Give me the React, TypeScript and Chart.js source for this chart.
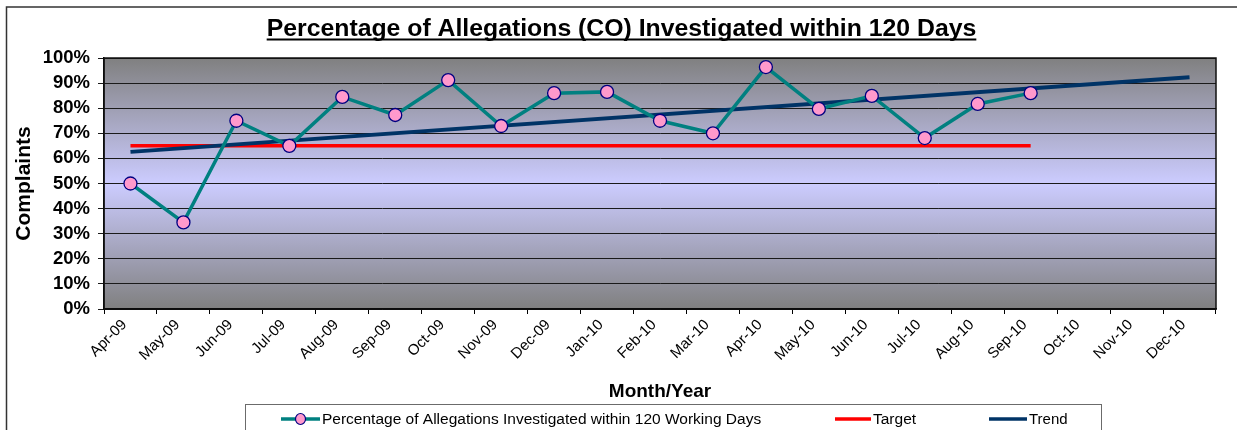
import React, { useEffect, useRef } from 'react';
import { Chart, registerables } from 'chart.js';

Chart.register(...registerables);

const months = [
  'Apr-09', 'May-09', 'Jun-09', 'Jul-09', 'Aug-09', 'Sep-09', 'Oct-09', 'Nov-09', 'Dec-09',
  'Jan-10', 'Feb-10', 'Mar-10', 'Apr-10', 'May-10', 'Jun-10', 'Jul-10', 'Aug-10', 'Sep-10',
  'Oct-10', 'Nov-10', 'Dec-10',
];

const investigatedPct = [
  50, 34.5, 75, 65, 84.5, 77.3, 91.2, 72.9, 86, 86.5, 75, 70, 96.4, 79.7, 84.9, 68.1, 81.7, 86,
  null, null, null,
];

const targetPct = [
  65, 65, 65, 65, 65, 65, 65, 65, 65, 65, 65, 65, 65, 65, 65, 65, 65, 65,
  null, null, null,
];

// Trend line end points (straight line between them)
const trendPct = [
  62.6, null, null, null, null, null, null, null, null, null, null, null, null, null, null, null,
  null, null, null, null, 92.3,
];

const seriesNames = [
  'Percentage of Allegations Investigated within 120 Working Days',
  'Target',
  'Trend',
];

const chartTitle = 'Percentage of Allegations (CO) Investigated within 120 Days';
const xTitle = 'Month/Year';
const yTitle = 'Complaints';

const FONT = '"Liberation Sans", Arial, Helvetica, sans-serif';
const TEAL = '#008080';
const PINK = '#FF99CC';
const NAVY = '#000080';
const RED = '#FF0000';
const TREND = '#003366';

const decorPlugin = {
  id: 'decor',
  beforeDraw(chart: any) {
    const { ctx, chartArea, width, height } = chart;
    ctx.save();
    ctx.fillStyle = '#ffffff';
    ctx.fillRect(0, 0, width, height);
    const g = ctx.createLinearGradient(0, chartArea.top, 0, chartArea.bottom);
    g.addColorStop(0, '#808080');
    g.addColorStop(0.5, '#CCCCFF');
    g.addColorStop(1, '#808080');
    ctx.fillStyle = g;
    ctx.fillRect(chartArea.left, chartArea.top, chartArea.right - chartArea.left, chartArea.bottom - chartArea.top);
    ctx.restore();
  },
  afterDraw(chart: any) {
    const { ctx, chartArea, width } = chart;
    ctx.save();
    // outer frame
    ctx.strokeStyle = '#333333';
    ctx.lineWidth = 1.5;
    ctx.beginPath();
    ctx.moveTo(6.5, 440);
    ctx.lineTo(6.5, 7);
    ctx.lineTo(width + 5, 7);
    ctx.stroke();

    // plot border
    ctx.strokeStyle = '#111111';
    ctx.lineWidth = 1.5;
    ctx.strokeRect(chartArea.left, chartArea.top, chartArea.right - chartArea.left, chartArea.bottom - chartArea.top);

    // title with underline
    ctx.font = `bold 24.8px ${FONT}`;
    ctx.fillStyle = '#000';
    ctx.textAlign = 'center';
    ctx.textBaseline = 'alphabetic';
    const cx = width / 2 + 3;
    ctx.fillText(chartTitle, cx, 36);
    const tw = ctx.measureText(chartTitle).width;
    ctx.fillRect(cx - tw / 2, 38.5, tw, 2);

    // legend
    const lx = 245.5, ly = 404.5, lr = 1101.5;
    ctx.strokeStyle = '#6b6b6b';
    ctx.lineWidth = 1;
    ctx.strokeRect(lx, ly, lr - lx, 40);
    const cy = 419;
    ctx.lineCap = 'butt';
    ctx.textAlign = 'left';
    ctx.textBaseline = 'middle';
    const items = [
      { x0: 281, x1: 320, color: TEAL, marker: true, text: seriesNames[0], size: 15.5 },
      { x0: 835, x1: 871, color: RED, marker: false, text: seriesNames[1], size: 15.5 },
      { x0: 989, x1: 1027, color: TREND, marker: false, text: seriesNames[2], size: 15 },
    ];
    for (const it of items) {
      ctx.strokeStyle = it.color;
      ctx.lineWidth = 3.5;
      ctx.beginPath();
      ctx.moveTo(it.x0, cy);
      ctx.lineTo(it.x1, cy);
      ctx.stroke();
      if (it.marker) {
        ctx.beginPath();
        ctx.ellipse((it.x0 + it.x1) / 2, cy, 5, 5.5, 0, 0, Math.PI * 2);
        ctx.fillStyle = PINK;
        ctx.fill();
        ctx.strokeStyle = NAVY;
        ctx.lineWidth = 1.2;
        ctx.stroke();
      }
      ctx.font = `${it.size}px ${FONT}`;
      ctx.fillStyle = '#000';
      ctx.fillText(it.text, it.x1 + 2, cy + 1);
    }
    ctx.restore();
  },
};

export default function App() {
  const ref = useRef<HTMLCanvasElement | null>(null);

  useEffect(() => {
    document.body.style.margin = '0';
    const canvas = ref.current;
    if (!canvas) return;
    const chart = new Chart(canvas, {
      type: 'line',
      data: {
        labels: months,
        datasets: [
          {
            label: seriesNames[0],
            data: investigatedPct,
            borderColor: TEAL,
            borderWidth: 3.5,
            backgroundColor: PINK,
            pointBackgroundColor: PINK,
            pointBorderColor: NAVY,
            pointBorderWidth: 1.3,
            pointRadius: 6.5,
            pointHoverRadius: 6.5,
            tension: 0,
            spanGaps: false,
          },
          {
            label: seriesNames[2],
            data: trendPct,
            borderColor: TREND,
            borderWidth: 4,
            pointRadius: 0,
            spanGaps: true,
            tension: 0,
          },
          {
            label: seriesNames[1],
            data: targetPct,
            borderColor: RED,
            borderWidth: 3.5,
            pointRadius: 0,
            tension: 0,
          },
        ],
      },
      options: {
        responsive: false,
        animation: false,
        events: [],
        layout: { padding: { left: 8, right: 21, top: 58, bottom: 25 } },
        plugins: {
          legend: { display: false },
          title: { display: false },
          tooltip: { enabled: false },
        },
        scales: {
          x: {
            type: 'category',
            offset: true,
            grid: {
              offset: true,
              drawOnChartArea: false,
              drawTicks: true,
              tickLength: 5,
              color: '#000',
            },
            border: { color: '#000', width: 1.5 },
            ticks: {
              autoSkip: false,
              maxRotation: 45,
              minRotation: 45,
              color: '#000',
              padding: 2,
              labelOffset: -6,
              font: { family: FONT, size: 15 },
            },
            title: {
              display: true,
              text: xTitle,
              color: '#000',
              padding: { top: 4, bottom: 2 },
              font: { family: FONT, size: 19, weight: 'bold' },
            },
            afterFit(scale: any) {
              scale.height = 96;
            },
          },
          y: {
            min: 0,
            max: 100,
            grid: {
              color: '#1a1a1a',
              lineWidth: 1,
              drawTicks: true,
              tickLength: 6,
            },
            border: { color: '#000', width: 1.5 },
            ticks: {
              stepSize: 10,
              autoSkip: false,
              color: '#000',
              padding: 8,
              font: { family: FONT, size: 18.5, weight: 'bold', lineHeight: 1 },
              callback: (v: any) => `${v}%`,
            },
            title: {
              display: true,
              text: yTitle,
              color: '#000',
              padding: { top: 4, bottom: 2 },
              font: { family: FONT, size: 21, weight: 'bold' },
            },
            afterFit(scale: any) {
              scale.width = 96;
            },
          },
        },
      },
      plugins: [decorPlugin],
    } as any);
    return () => chart.destroy();
  }, []);

  return (
    <div style={{ width: 1237, height: 430 }}>
      <canvas ref={ref} width={1237} height={430} style={{ display: 'block', width: 1237, height: 430 }} />
    </div>
  );
}
